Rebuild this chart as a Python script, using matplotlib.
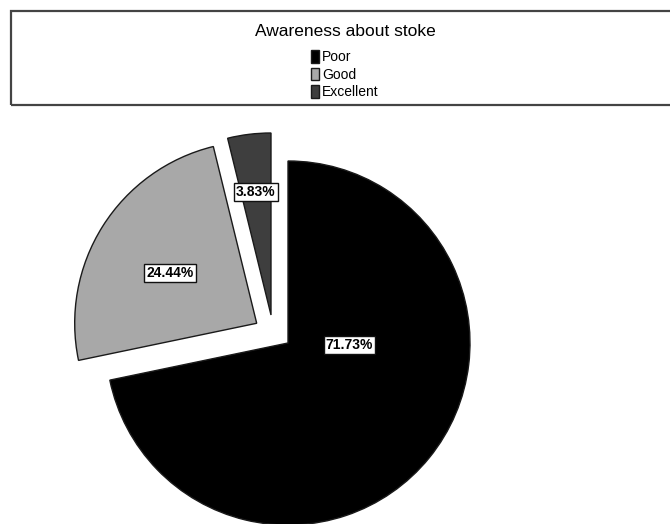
import matplotlib.pyplot as plt
from matplotlib.patches import Rectangle

# datos
categorias = ["Poor", "Good", "Excellent"]
porcentajes = [71.73, 24.44, 3.83]
colores = ["#000000", "#a8a8a8", "#3e3e3e"]
titulo_leyenda = "Awareness about stoke"

plt.rcParams['font.family'] = ['Liberation Sans', 'DejaVu Sans']

fig = plt.figure(figsize=(6.7, 5.24), dpi=100)
ax = fig.add_axes([0, 0, 1, 1])

# el pie en coordenadas de pixel (y hacia arriba)
centro = (288, 524 - 343)
radio = 182
wedges, textos = ax.pie(porcentajes, colors=colores, startangle=90, counterclock=False,
                        center=centro, radius=radio, explode=[0, 37, 0],
                        wedgeprops=dict(edgecolor="#1a1a1a", linewidth=1.0))
# la porcion chica esta corrida a mano en el original
wedges[2].set_center((271, 524 - 315))

# etiquetas con caja blanca
pos_etiquetas = [(349.5, 524 - 345), (170, 524 - 273), (256, 524 - 192)]
for p, (x, y) in zip(porcentajes, pos_etiquetas):
    ax.text(x, y, "%.2f%%" % p, ha="center", va="center", fontsize=10, fontweight="bold",
            bbox=dict(boxstyle="square,pad=0.14", fc="white", ec="#111111", lw=1.0))

ax.set_xlim(0, 670)
ax.set_ylim(0, 524)
ax.set_aspect("equal")
ax.axis("off")

# recuadro de la leyenda (se sale por la derecha)
fig.patches.append(Rectangle((11 / 670, 1 - 105 / 524), 670 / 670, 94 / 524, transform=fig.transFigure,
                             fill=False, edgecolor="#444444", linewidth=1.6))

leg = fig.legend(wedges, categorias, title=titulo_leyenda, loc="upper center",
                 bbox_to_anchor=(345 / 670, 1 - 17 / 524), frameon=False, fontsize=10,
                 title_fontsize=12.5, handlelength=0.6, handleheight=1.0, handletextpad=0.2,
                 labelspacing=0.26, borderpad=0)
leg._legend_box.sep = 8

fig.savefig("out.png", dpi=100)
